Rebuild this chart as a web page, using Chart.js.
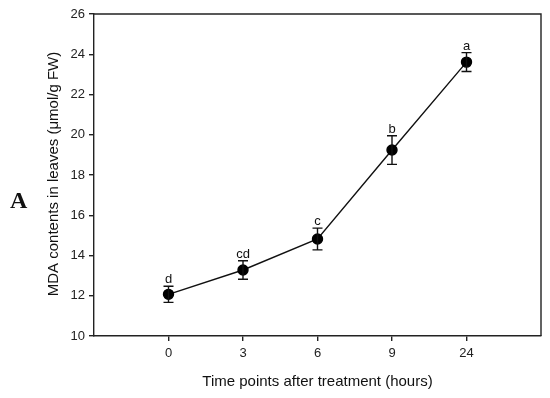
<!DOCTYPE html>
<html>
<head>
<meta charset="utf-8">
<script src="https://cdn.jsdelivr.net/npm/chart.js@4.4.1/dist/chart.umd.min.js"></script>
<style>
html,body{margin:0;padding:0;background:#fff;}
#wrap{width:550px;height:398px;}
</style>
</head>
<body>
<div id="wrap"><canvas id="c" width="550" height="398"></canvas></div>
<script>
const categories = ['0', '3', '6', '9', '24'];
const mdaMeans = [12.07, 13.28, 14.82, 19.24, 23.61];
const mdaErrors = [0.40, 0.46, 0.54, 0.71, 0.47];
const sigLetters = ['d', 'cd', 'c', 'b', 'a'];
const yTicks = [10, 12, 14, 16, 18, 20, 22, 24, 26];

const FONT = '"Liberation Sans", Arial, sans-serif';

const points = mdaMeans.map((v, i) => ({x: i, y: v}));

const extras = {
  id: 'extras',
  afterDatasetsDraw(chart) {
    const ctx = chart.ctx;
    const xs = chart.scales.x, ys = chart.scales.y;
    const a = chart.chartArea;
    ctx.save();
    // error bars
    ctx.strokeStyle = '#111';
    ctx.lineWidth = 1.4;
    mdaMeans.forEach((v, i) => {
      const px = xs.getPixelForValue(i);
      const top = ys.getPixelForValue(v + mdaErrors[i]);
      const bot = ys.getPixelForValue(v - mdaErrors[i]);
      ctx.beginPath();
      ctx.moveTo(px, top); ctx.lineTo(px, bot);
      ctx.moveTo(px - 5, top); ctx.lineTo(px + 5, top);
      ctx.moveTo(px - 5, bot); ctx.lineTo(px + 5, bot);
      ctx.stroke();
      // letters
      ctx.fillStyle = '#111';
      ctx.font = '13px ' + FONT;
      ctx.textAlign = 'center';
      ctx.textBaseline = 'alphabetic';
      ctx.fillText(sigLetters[i], px, top - 3);
    });
    // box top & right
    ctx.strokeStyle = '#222';
    ctx.lineWidth = 1.4;
    ctx.beginPath();
    ctx.moveTo(a.left, a.top); ctx.lineTo(a.right, a.top); ctx.lineTo(a.right, a.bottom);
    ctx.stroke();
    // axis titles
    ctx.fillStyle = '#111';
    ctx.font = '15px ' + FONT;
    ctx.textAlign = 'center';
    ctx.textBaseline = 'middle';
    ctx.fillText('Time points after treatment (hours)', (a.left + a.right) / 2, 382);
    ctx.save();
    ctx.translate(54, 174);
    ctx.rotate(-Math.PI / 2);
    ctx.fillText('MDA contents in leaves (\u03bcmol/g FW)', 0, 0);
    ctx.restore();
    // panel letter
    ctx.font = 'bold 24px "Liberation Serif", "Times New Roman", serif';
    ctx.textAlign = 'left';
    ctx.fillText('A', 10, 202);
    ctx.restore();
  }
};

new Chart(document.getElementById('c'), {
  type: 'scatter',
  data: {
    datasets: [{
      data: points,
      showLine: true,
      borderColor: '#111',
      borderWidth: 1.4,
      backgroundColor: '#000',
      pointBackgroundColor: '#000',
      pointBorderColor: '#000',
      pointRadius: 5,
      pointHoverRadius: 5,
      tension: 0
    }]
  },
  options: {
    responsive: false,
    animation: false,
    events: [],
    layout: {padding: {left: 0, top: 14, right: 9, bottom: 0}},
    plugins: {legend: {display: false}, tooltip: {enabled: false}},
    scales: {
      x: {
        type: 'linear',
        min: -1, max: 5,
        afterFit(s) { s.height = 62; },
        afterBuildTicks(s) { s.ticks = categories.map((c, i) => ({value: i})); },
        ticks: {
          callback: (v) => categories[v] !== undefined ? categories[v] : '',
          font: {family: FONT, size: 13},
          color: '#222',
          padding: 5,
          maxRotation: 0,
          autoSkip: false
        },
        grid: {display: true, drawOnChartArea: false, drawTicks: true, tickLength: 5, color: '#222', lineWidth: 1.4},
        border: {display: true, color: '#222', width: 1.4}
      },
      y: {
        type: 'linear',
        min: 10, max: 26,
        afterFit(s) { s.width = 94; },
        afterBuildTicks(s) { s.ticks = yTicks.map(v => ({value: v})); },
        ticks: {
          font: {family: FONT, size: 13},
          color: '#222',
          padding: 4,
          autoSkip: false
        },
        grid: {display: true, drawOnChartArea: false, drawTicks: true, tickLength: 5, color: '#222', lineWidth: 1.4},
        border: {display: true, color: '#222', width: 1.4}
      }
    }
  },
  plugins: [extras]
});
</script>
</body>
</html>
